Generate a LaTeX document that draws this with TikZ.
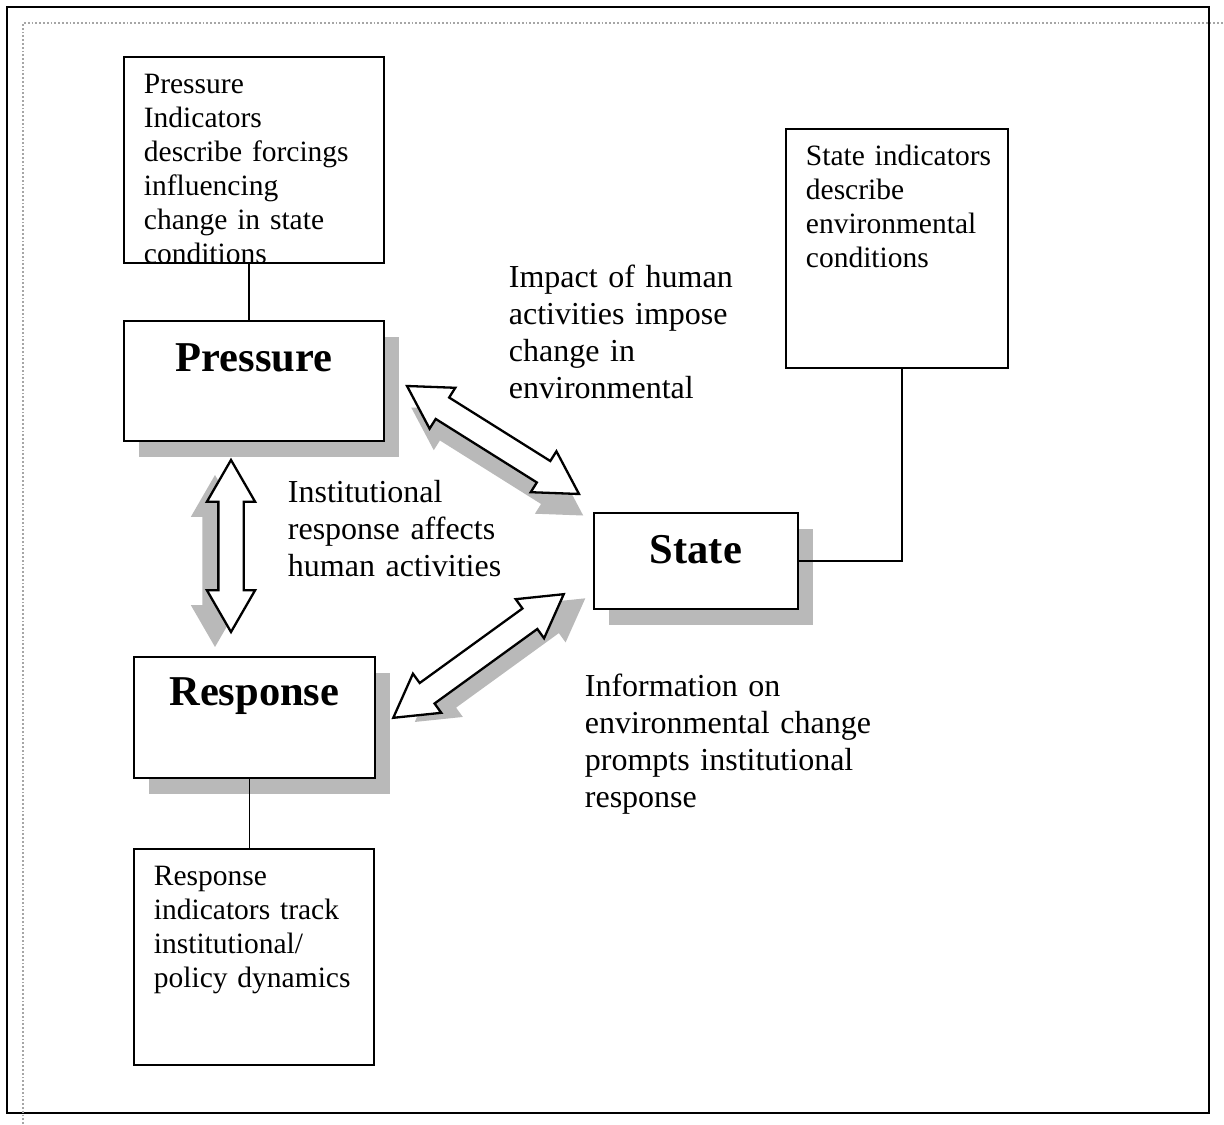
\documentclass[tikz,border=0pt]{standalone}
\usepackage{fontspec}
\setmainfont{Liberation Serif}
\usetikzlibrary{positioning, calc, shapes.arrows, shadows}
\hyphenpenalty=10000

\begin{document}
\begin{tikzpicture}[x=0.5pt, y=0.5pt, line width=0.9pt]
        \tikzstyle{point}=[coordinate]
        \tikzstyle{grayshadow}=[drop shadow={shadow xshift=7.5pt, shadow yshift=-8pt, fill=gray!55, opacity=1}]
        \tikzstyle{mainbox}=[draw, fill=white, grayshadow, rectangle, anchor=north west, inner sep=0pt, text height=25.5pt, font=\fontsize{21.25}{25}\selectfont\bfseries]
        \tikzstyle{infobox}=[draw, fill=white, rectangle, anchor=north west, inner xsep=10pt, inner ysep=0pt, align=left, text height=18.5pt, font=\fontsize{14.75}{17}\selectfont]
        \tikzstyle{remark}=[anchor=base west, inner sep=0pt, align=left, font=\fontsize{16}{18.5}\selectfont]
        \tikzstyle{dblarrow}=[double arrow, draw, line width=1.15pt, fill=white, inner xsep=0pt, inner ysep=5.75pt, outer sep=0pt, minimum width=23pt, double arrow head extend=5.75pt, double arrow tip angle=60]
        \tikzstyle{arrowshadow}=[dblarrow, draw=none, fill=gray!55]
        \useasboundingbox (0,0) rectangle (1224,1124);
        % frames
        \draw[line width=1.2pt] (7,11) rectangle (1209,1117);
        \draw[gray!70, densely dotted] (23,0) -- (23,1101) -- (1224,1101);
        % indicator boxes
        \node[infobox, text width=110pt, text depth=84.5pt] (pind) at (123,1068) {Pressure\\ Indicators\\ \mbox{describe forcings}\\ influencing\\ \mbox{change in state}\\ conditions};
        \node[infobox, text width=91pt, text depth=101pt]   (sind) at (785,996)  {\mbox{State indicators}\\ describe\\ environmental\\ conditions};
        \node[infobox, text width=100pt, text depth=89.5pt] (rind) at (133,276)  {Response\\ \mbox{indicators track}\\ institutional/\\ \mbox{policy dynamics}};
        % main boxes
        \node[mainbox, minimum width=130pt, text depth=34.5pt] (press) at (123,804) {Pressure};
        \node[mainbox, minimum width=120.5pt, text height=24.5pt, text depth=36pt] (resp) at (133,468) {Response};
        \node[mainbox, minimum width=102pt, text depth=22.5pt] (state) at (593,612) {State};
        \draw ([xshift=-2.5pt]pind.south) -- ([xshift=-2.5pt]pind.south |- press.north);
        \draw ([xshift=-2.5pt]resp.south) -- ([xshift=-2.5pt]resp.south |- rind.north);
        \draw (state.east) -| ([xshift=2.5pt]sind.south);
        % texts
        \node[remark, text width=130pt] (impact) at (508,836) {Impact of human\\ activities impose\\ change in\\ environmental};
        \node[remark, text width=125pt] (instit) at (287,621) {Institutional\\ response affects\\ human activities};
        \node[remark, text width=160pt] (inform) at (584,427) {Information on\\ environmental change\\ prompts institutional\\ response};
        % arrows
        \node[point] (p1) at (407,738) {};
        \node[point] (s1) at (579,630) {};
        \node[point] (p2) at (231,664) {};
        \node[point] (r2) at (231,492) {};
        \node[point] (r3) at (393,406) {};
        \node[point] (s3) at (564,530) {};
        \foreach \a/\b in {p1/s1, p2/r2, r3/s3}
          \path let \p1=(\a), \p2=(\b), \n1={atan2(\y2-\y1,\x2-\x1)}, \n2={veclen(\x2-\x1,\y2-\y1)}, \n3={\n1-90} in
            node[arrowshadow, rotate=\n1, minimum height=\n2] at ($(\a)!0.5!(\b)+(\n1:7.5pt)+(\n3:8pt)$) {}
            node[dblarrow, rotate=\n1, minimum height=\n2] at ($(\a)!0.5!(\b)$) {};
\end{tikzpicture}
\end{document}
